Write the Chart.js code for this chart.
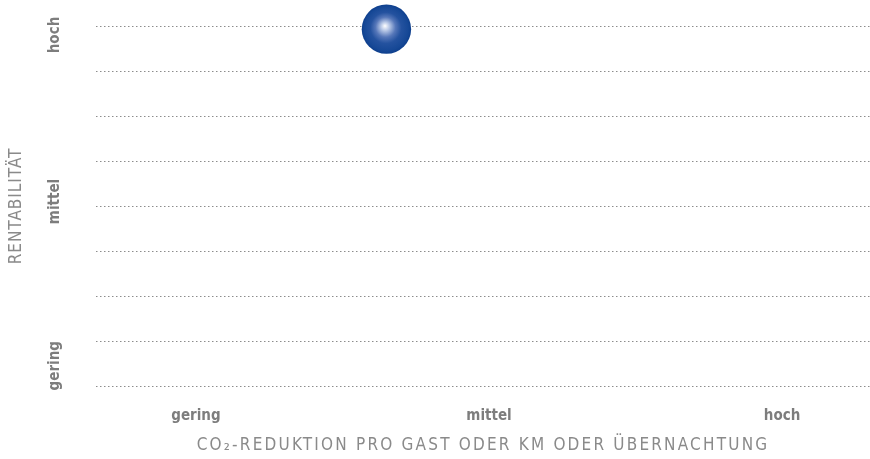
<!DOCTYPE html>
<html>
<head>
<meta charset="utf-8">
<script src="https://cdn.jsdelivr.net/npm/chart.js@4/dist/chart.umd.min.js"></script>
<style>
  html, body { margin: 0; padding: 0; background: #fff; }
  #wrap { width: 870px; height: 459px; }
</style>
</head>
<body>
<div id="wrap"><canvas id="matrixChart"></canvas></div>
<script>
// category names on both axes
const xCategories = ['gering', 'mittel', 'hoch'];
const yCategories = ['gering', 'mittel', 'hoch'];
// where the y category names sit on the 0..8 grid scale
const yLevels = [0.45, 4.1, 7.8];
// the single measure (x in category units, y in grid units)
const pointX = [0.65];
const pointY = [7.93];

const narrow = "'Liberation Sans Narrow', 'DejaVu Sans Condensed', 'Roboto', sans-serif";
const labelFont = { family: narrow, size: 15, weight: 'bold' };
const titleFont = { family: narrow, size: 17, weight: 'normal' };

// axis titles are set with a little extra tracking
function trackTitle(spacing) {
  return s => {
    if (s._tracked) return;
    const base = s.drawTitle;
    s.drawTitle = function () {
      const c = this.ctx;
      c.save();
      c.letterSpacing = spacing + 'px';
      base.call(this);
      c.restore();
    };
    s._tracked = true;
  };
}

function ballFill(c) {
  const chart = c.chart;
  if (!chart.chartArea || !c.raw) return '#1a4c9b';
  const px = chart.scales.x.getPixelForValue(c.raw.x);
  const py = chart.scales.y.getPixelForValue(c.raw.y);
  const g = chart.ctx.createRadialGradient(px - 1.5, py - 3.3, 0, px, py, 25);
  g.addColorStop(0, '#ffffff');
  g.addColorStop(0.16, '#bccbe8');
  g.addColorStop(0.4, '#5677b9');
  g.addColorStop(0.62, '#24529f');
  g.addColorStop(0.88, '#164896');
  g.addColorStop(1, '#0d3e8c');
  return g;
}

const ctx = document.getElementById('matrixChart').getContext('2d');
const matrixChart = new Chart(ctx, {
  type: 'scatter',
  data: {
    datasets: [{
      data: pointX.map((x, i) => ({ x: x, y: pointY[i] })),
      backgroundColor: ballFill,
      borderWidth: 0,
      pointRadius: 24.7,
      pointHoverRadius: 24.7,
      clip: false
    }]
  },
  options: {
    responsive: true,
    maintainAspectRatio: false,
    animation: false,
    events: [],
    layout: { autoPadding: false, padding: { top: 26, right: 0, bottom: 0, left: 0 } },
    plugins: { legend: { display: false }, tooltip: { enabled: false } },
    scales: {
      x: {
        type: 'linear',
        min: -0.341,
        max: 2.3,
        afterBuildTicks: s => { s.ticks = xCategories.map((_, i) => ({ value: i })); },
        afterFit: s => { s.height = 73; },
        afterUpdate: trackTitle(2.2),
        ticks: {
          autoSkip: false,
          maxRotation: 0,
          padding: 13,
          color: '#7d7d7d',
          font: labelFont,
          callback: v => xCategories[v]
        },
        grid: { display: false },
        border: { display: false },
        title: {
          display: true,
          text: 'CO₂-REDUKTION PRO GAST ODER KM ODER ÜBERNACHTUNG',
          color: '#8a8a8a',
          font: titleFont,
          padding: { top: 13, bottom: 3 }
        }
      },
      y: {
        min: 0,
        max: 8,
        afterFit: s => { s.width = 8; },
        ticks: { stepSize: 1, display: false },
        grid: { color: '#8c8c8c', lineWidth: 1, drawTicks: false },
        border: { display: false, dash: [1.5, 2.5] }
      },
      yLab: {
        type: 'linear',
        position: 'left',
        min: 0,
        max: 8,
        afterBuildTicks: s => { s.ticks = yLevels.map(v => ({ value: v })); },
        afterFit: s => { s.width = 88; },
        afterUpdate: trackTitle(1),
        ticks: {
          autoSkip: false,
          minRotation: 90,
          maxRotation: 90,
          crossAlign: 'center',
          padding: 0,
          color: '#7d7d7d',
          font: labelFont,
          callback: (v, i) => yCategories[i]
        },
        grid: { display: false },
        border: { display: false },
        title: {
          display: true,
          text: 'RENTABILITÄT',
          color: '#8a8a8a',
          font: titleFont,
          padding: { top: 6, bottom: 0 }
        }
      }
    }
  }
});
</script>
</body>
</html>
